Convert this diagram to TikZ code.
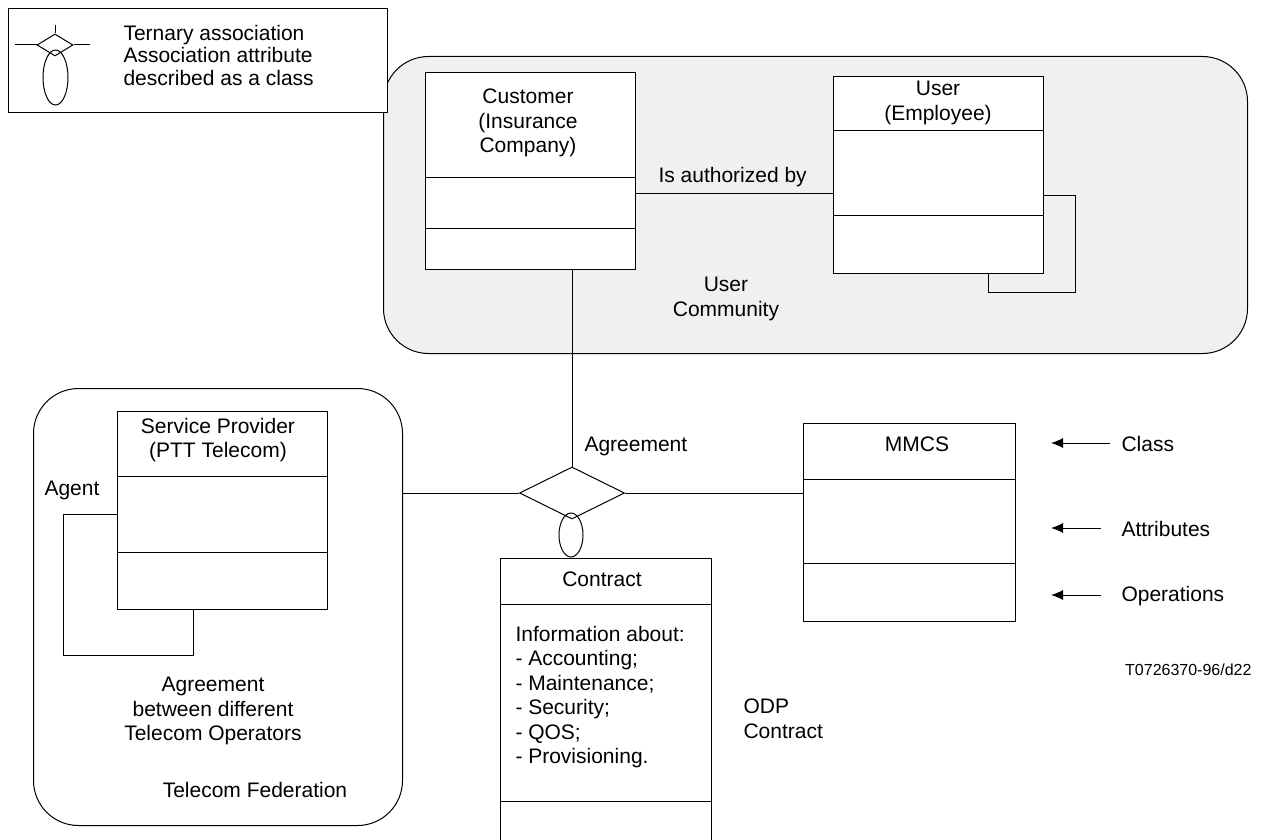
\documentclass[tikz,border=0pt]{standalone}
\usepackage{fontspec}
\setmainfont{Liberation Sans}
\usetikzlibrary{shapes.geometric,arrows.meta}
\begin{document}
\begin{tikzpicture}[x=1pt,y=-1pt,line width=1pt,
  txt/.style={font=\fontsize{21}{24.5}\selectfont, inner sep=0pt},
  region/.style={draw, rounded corners=45pt, inner sep=0pt, anchor=north west},
  classbox/.style={draw, fill=white, inner sep=0pt, anchor=north west},
  arr/.style={-{Latex[length=12pt,width=10pt]}}
]
\useasboundingbox (0,0) rectangle (1262,840);

% regions
\node[region, fill=black!6, minimum width=864pt, minimum height=297pt] (uc) at (383,56) {};
\node[region, fill=white, minimum width=369pt, minimum height=437pt] (tf) at (33,388) {};

% legend
\node[draw, fill=white, inner sep=0pt, anchor=north west, minimum width=379pt, minimum height=104pt] (legend) at (8,8) {};
\node[ellipse, draw, inner sep=0pt, minimum width=25pt, minimum height=55pt] (lell) at (55.5,77.5) {};
\node[diamond, draw, inner sep=0pt, minimum width=36pt, minimum height=22pt] (ldia) at (55,45) {};
\coordinate (lL) at (15,45);
\coordinate (lR) at (90,45);
\coordinate (lT) at (55,25);
\draw (lL) -- (ldia.west);
\draw (ldia.east) -- (lR);
\draw (lT) -- (ldia.north);
\node[txt, align=left, anchor=west, font=\fontsize{21}{22.5}\selectfont] (ltext) at (123,55) {Ternary association\\Association attribute\\described as a class};

% Customer
\node[classbox, minimum width=210pt, minimum height=197pt] (cust) at (425,72) {};
\draw (cust.west |- 0,178) -- (cust.east |- 0,178);
\draw (cust.west |- 0,228) -- (cust.east |- 0,228);
\node[txt, align=center] (custt) at (528,123) {Customer\\(Insurance\\Company)};

% User
\node[classbox, minimum width=210pt, minimum height=197pt] (user) at (833,76) {};
\draw (user.west |- 0,131) -- (user.east |- 0,131);
\draw (user.west |- 0,216) -- (user.east |- 0,216);
\node[txt, align=center] (usert) at (938,103) {User\\(Employee)};

\draw (cust.east |- 0,194) -- (user.west |- 0,194);
\node[txt, anchor=west] (auth) at (658,177) {Is authorized by};
\draw (user.east |- 0,196) -- (1075,196) -- (1075,292) -- (988,292) -- (user.south -| 988,0);
\node[txt, align=center] (uct) at (726,299) {User\\Community};

% Service provider
\node[classbox, minimum width=210pt, minimum height=198pt] (sp) at (117,411) {};
\draw (sp.west |- 0,476) -- (sp.east |- 0,476);
\draw (sp.west |- 0,552) -- (sp.east |- 0,552);
\node[txt, align=center] (spt) at (218,440) {Service Provider\\(PTT Telecom)};
\draw (sp.west |- 0,514) -- (63,514) -- (63,655) -- (193,655) -- (sp.south -| 193,0);
\node[txt, anchor=west] (agent) at (44,490) {Agent};
\node[txt, align=center] (agbt) at (213,711) {Agreement\\between different\\Telecom Operators};
\node[txt] (tft) at (255,790) {Telecom Federation};

% Agreement diamond
\node[ellipse, draw, inner sep=0pt, minimum width=24pt, minimum height=44pt] (aell) at (571,535) {};
\node[diamond, draw, inner sep=0pt, minimum width=105pt, minimum height=52pt] (agr) at (572,493) {};
\node[txt, anchor=west] (agrt) at (584,446) {Agreement};
\draw (cust.south -| agr.north) -- (agr.north);
\draw (agr.west) -- (tf.east |- agr.west);

% MMCS
\node[classbox, minimum width=212pt, minimum height=198pt] (mmcs) at (803,423) {};
\draw (mmcs.west |- 0,479) -- (mmcs.east |- 0,479);
\draw (mmcs.west |- 0,563) -- (mmcs.east |- 0,563);
\node[txt] (mmcst) at (917,444) {MMCS};
\draw (agr.east) -- (mmcs.west |- agr.east);

% Contract
\node[inner sep=0pt, anchor=north west, minimum width=210pt, minimum height=282pt] (contract) at (500,558) {};
\draw (contract.south west) |- (contract.north east) -- (contract.south east);
\draw (contract.west |- 0,604) -- (contract.east |- 0,604);
\draw (contract.west |- 0,801) -- (contract.east |- 0,801);
\node[txt] (contt) at (602,579) {Contract};
\node[txt, align=left, anchor=west] (contb) at (515,697) {Information about:\\- Accounting;\\- Maintenance;\\- Security;\\- QOS;\\- Provisioning.};
\node[txt, align=left, anchor=west] (odp) at (743,719) {ODP\\Contract};

% key arrows
\node[txt, anchor=west] (kclass) at (1121,444) {Class};
\node[txt, anchor=west] (kattr) at (1121,529) {Attributes};
\node[txt, anchor=west] (kops) at (1121,596) {Operations};
\coordinate (ctail) at (1110,443);
\coordinate (ctip) at (1051,443);
\coordinate (atail) at (1101,528);
\coordinate (atip) at (1051,528);
\coordinate (otail) at (1101,595);
\coordinate (otip) at (1051,595);
\draw[arr] (ctail) -- (ctip);
\draw[arr] (atail) -- (atip);
\draw[arr] (otail) -- (otip);

\node[inner sep=0pt, anchor=east, font=\fontsize{16}{19}\selectfont] (ref) at (1252,670) {T0726370-96/d22};
\end{tikzpicture}
\end{document}
